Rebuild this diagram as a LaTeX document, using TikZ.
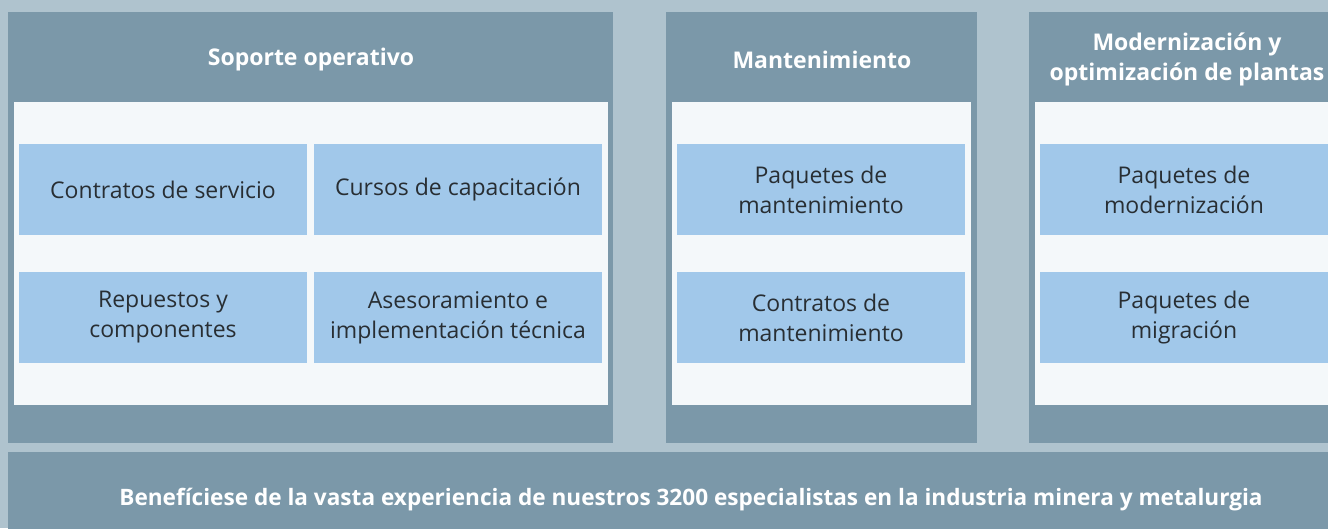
\documentclass[tikz,border=0pt]{standalone}
\usepackage{fontspec}
\setmainfont{Open Sans}
\definecolor{pagebg}{HTML}{AFC3CE}
\definecolor{panelbg}{HTML}{7B98A9}
\definecolor{innerbg}{HTML}{F4F8FA}
\definecolor{boxbg}{HTML}{A1C8EA}
\definecolor{boxtext}{HTML}{282E33}

\begin{document}
\begin{tikzpicture}[x=1pt, y=-1pt,
  svcbox/.style={fill=boxbg, text=boxtext, minimum width=288pt, minimum height=91pt,
    inner sep=0pt, align=center, font=\fontsize{23}{30}\selectfont},
  headtext/.style={text=white, align=center, font=\fontsize{23}{30}\selectfont\bfseries}]

\useasboundingbox (0,0) rectangle (1328,528);
\clip (0,0) rectangle (1328,528);
\fill[pagebg] (0,0) rectangle (1328,528);

% panels
\fill[panelbg] (8,12) rectangle (613,443);
\fill[innerbg] (14,102) rectangle (608,405);
\fill[panelbg] (666,12) rectangle (977,443);
\fill[innerbg] (672,102) rectangle (971,405);
\fill[panelbg] (1029,12) rectangle (1340,443);
\fill[innerbg] (1035,102) rectangle (1334,405);

% headers
\node[headtext] (soporte) at (311,60) {Soporte operativo};
\node[headtext] (manten) at (822,60) {Mantenimiento};
\node[headtext] (modern) at (1187,59) {Modernización y\\optimización de plantas};

% Soporte operativo
\node[svcbox] (contratos) at (163,189.5) {Contratos de servicio};
\node[svcbox] (cursos) at (458,189.5) {Cursos de capacitación};
\node[svcbox] (repuestos) at (163,317.5) {Repuestos y\\componentes};
\node[svcbox] (asesor) at (458,317.5) {Asesoramiento e\\implementación técnica};

% Mantenimiento
\node[svcbox] (paqmant) at (821,189.5) {Paquetes de\\mantenimiento};
\node[svcbox] (contmant) at (821,317.5) {Contratos de\\mantenimiento};

% Modernizacion
\node[svcbox] (paqmod) at (1184,189.5) {Paquetes de\\modernización};
\node[svcbox] (paqmig) at (1184,317.5) {Paquetes de\\migración};

% banner
\fill[panelbg] (8,452) rectangle (1340,540);
\node[headtext, font=\fontsize{22.6}{30}\selectfont\bfseries] (banner) at (691,500) {Benefíciese de la vasta experiencia de nuestros 3200 especialistas en la industria minera y metalurgia};

\end{tikzpicture}
\end{document}
